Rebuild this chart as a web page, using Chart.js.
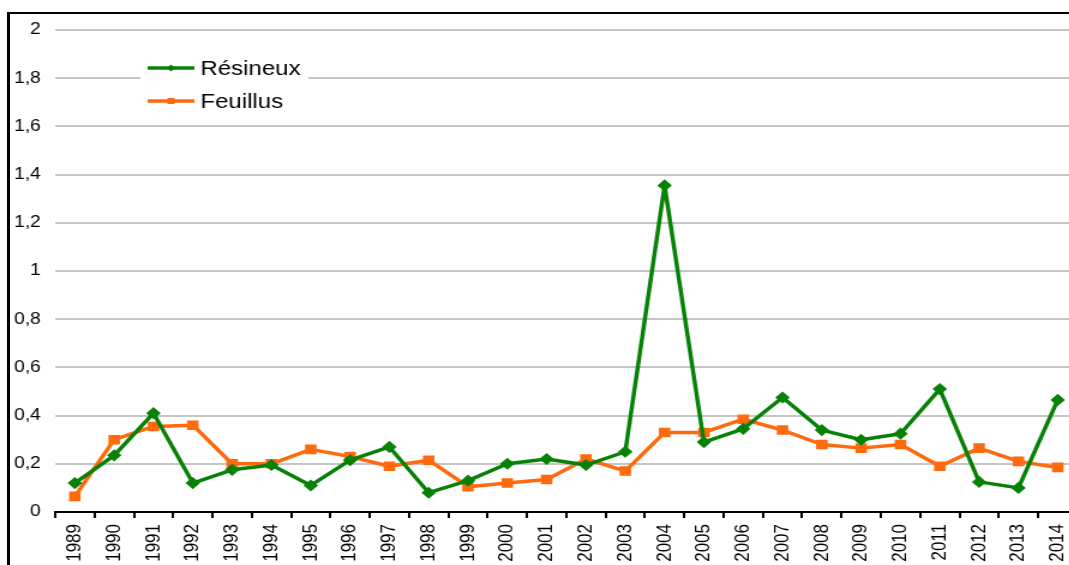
<!DOCTYPE html>
<html>
<head>
<meta charset="utf-8">
<script src="https://cdn.jsdelivr.net/npm/chart.js@4.4.1/dist/chart.umd.min.js"></script>
<style>
  html, body { margin: 0; padding: 0; background: #fff; overflow: hidden; width: 1069px; height: 565px; }
  #frame { position: absolute; left: 7px; top: 12px; width: 1100px; height: 600px;
           border-top: 2px solid #000; border-left: 3px solid #000; }
  #chart { position: absolute; left: 0; top: 0; transform: scaleX(1.2); transform-origin: 0 0; }
</style>
</head>
<body>
<div id="frame"></div>
<canvas id="chart" width="908" height="565"></canvas>
<script>
// années
const years = ['1989', '1990', '1991', '1992', '1993', '1994', '1995', '1996', '1997',
  '1998', '1999', '2000', '2001', '2002', '2003', '2004', '2005', '2006', '2007',
  '2008', '2009', '2010', '2011', '2012', '2013', '2014'];

const resineux = [0.12, 0.235, 0.41, 0.12, 0.175, 0.195, 0.11, 0.215, 0.27, 0.08,
  0.13, 0.2, 0.22, 0.195, 0.25, 1.355, 0.29, 0.345, 0.475, 0.34, 0.3, 0.325,
  0.51, 0.125, 0.1, 0.465];

const feuillus = [0.065, 0.3, 0.355, 0.36, 0.2, 0.2, 0.26, 0.23, 0.19, 0.215,
  0.105, 0.12, 0.135, 0.22, 0.17, 0.33, 0.33, 0.385, 0.34, 0.28, 0.265, 0.28,
  0.19, 0.265, 0.21, 0.185];

const GREEN = '#078207';
const ORANGE = '#ff6a0e';

// légende dessinée dans la zone du graphique (fond blanc sur la grille)
const insideLegend = {
  id: 'insideLegend',
  afterDraw(chart) {
    const ctx = chart.ctx;
    ctx.save();
    ctx.fillStyle = '#fff';
    ctx.fillRect(117, 50, 140, 68);
    const rows = [68, 101];
    chart.data.datasets.forEach((ds, i) => {
      const y = rows[i];
      ctx.strokeStyle = ds.borderColor;
      ctx.lineWidth = 3.5;
      ctx.beginPath();
      ctx.moveTo(123, y);
      ctx.lineTo(162, y);
      ctx.stroke();
      ctx.fillStyle = ds.borderColor;
      if (ds.pointStyle === 'rect') {
        ctx.fillRect(139.5, y - 3, 6, 6);
      } else {
        ctx.beginPath();
        ctx.moveTo(142.5, y - 3.5);
        ctx.lineTo(146, y);
        ctx.lineTo(142.5, y + 3.5);
        ctx.lineTo(139, y);
        ctx.closePath();
        ctx.fill();
      }
      ctx.fillStyle = '#000';
      ctx.font = '20px "Liberation Sans", Arial, sans-serif';
      ctx.textBaseline = 'middle';
      ctx.fillText(ds.label, 167, y + 1);
    });
    ctx.restore();
  }
};

new Chart(document.getElementById('chart'), {
  type: 'line',
  data: {
    labels: years,
    datasets: [
      {
        label: 'Résineux',
        data: resineux,
        borderColor: GREEN,
        backgroundColor: GREEN,
        borderWidth: 3.5,
        borderJoinStyle: 'round',
        pointStyle: 'rectRot',
        pointRadius: 3.6,
        tension: 0
      },
      {
        label: 'Feuillus',
        data: feuillus,
        borderColor: ORANGE,
        backgroundColor: ORANGE,
        borderWidth: 3.5,
        borderJoinStyle: 'round',
        pointStyle: 'rect',
        pointRadius: 4.3,
        tension: 0
      }
    ]
  },
  options: {
    responsive: false,
    animation: false,
    layout: { padding: { top: 30, right: 8, bottom: 0, left: 0 } },
    plugins: {
      legend: { display: false },
      tooltip: { enabled: false }
    },
    scales: {
      x: {
        offset: true,
        afterFit(scale) { scale.height = 53; },
        grid: {
          offset: true,
          drawOnChartArea: false,
          drawTicks: true,
          tickLength: 6,
          color: '#000',
          lineWidth: 2
        },
        border: { display: true, color: '#000', width: 2 },
        ticks: {
          autoSkip: false,
          minRotation: 90,
          maxRotation: 90,
          padding: 6,
          color: '#000',
          font: { family: '"Liberation Sans", Arial, sans-serif', size: 17 }
        }
      },
      y: {
        min: 0,
        max: 2,
        afterFit(scale) { scale.width = 46; },
        grid: { color: '#c6c6c6', lineWidth: 2, drawTicks: false },
        border: { display: false },
        ticks: {
          stepSize: 0.2,
          padding: 12,
          color: '#000',
          font: { family: '"Liberation Sans", Arial, sans-serif', size: 16 },
          callback: v => String(Number(v.toFixed(1))).replace('.', ',')
        }
      }
    }
  },
  plugins: [insideLegend]
});
</script>
</body>
</html>
